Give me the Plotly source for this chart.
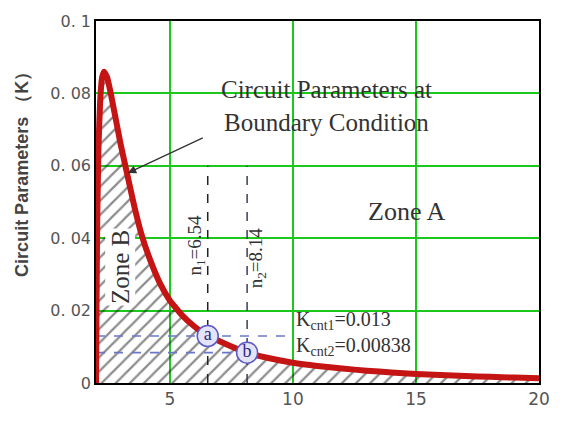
import plotly.graph_objects as go

# Circuit parameter K versus turns ratio n
n_vals = [2.0, 2.02, 2.05, 2.1, 2.17, 2.25, 2.33, 2.45, 2.6, 2.8, 3.0, 3.29, 3.55,
          3.85, 4.2, 4.6, 5.0, 5.5, 6.0, 6.54, 7.0, 7.5, 8.14, 9.0, 10, 11, 12,
          13, 14, 15, 16, 17, 18, 19, 20]
k_vals = [0.0, 0.02, 0.045, 0.065, 0.078, 0.0845, 0.086, 0.0845, 0.080, 0.073,
          0.066, 0.057, 0.049, 0.041, 0.034, 0.0275, 0.0228, 0.0187, 0.0156, 0.013,
          0.0116, 0.0101, 0.00838, 0.0069, 0.0056, 0.0047, 0.0040, 0.0034,
          0.0029, 0.0025, 0.0022, 0.0019, 0.0017, 0.0015, 0.0013]

# Critical points
crit_n = [6.54, 8.14]
crit_k = [0.013, 0.00838]
crit_tags = ["a", "b"]

x_ticks = [5, 10, 15, 20]
y_ticks = [0, 0.02, 0.04, 0.06, 0.08, 0.1]
y_tick_text = ["0", "0. 02", "0. 04", "0. 06", "0. 08", "0. 1"]

SERIF = "Liberation Serif, Times New Roman, serif"
SANS = "DejaVu Sans, sans-serif"
GRID = "#1cc81c"

fig = go.Figure()

# hatched region below the boundary curve
fig.add_trace(go.Scatter(
    x=n_vals, y=k_vals, mode="lines", fill="tozeroy",
    line=dict(width=0, color="rgba(0,0,0,0)"),
    fillcolor="rgba(0,0,0,0)",
    fillpattern=dict(shape="/", size=10, solidity=0.22,
                     fgcolor="#1a1a1a", bgcolor="rgba(0,0,0,0)"),
    hoverinfo="skip", showlegend=False))

# horizontal guides at the critical K values
fig.add_trace(go.Scatter(x=[2, 9.8], y=[crit_k[0]] * 2, mode="lines",
                         line=dict(color="#6a78c8", width=1.6, dash="dash"),
                         showlegend=False))
fig.add_trace(go.Scatter(x=[2, crit_n[1]], y=[crit_k[1]] * 2, mode="lines",
                         line=dict(color="#6a78c8", width=1.6, dash="dash"),
                         showlegend=False))

# vertical guides at the critical turns ratios
for nv, col in zip(crit_n, ["#222222", "#3a3f5a"]):
    fig.add_trace(go.Scatter(x=[nv, nv], y=[0, 0.06], mode="lines",
                             line=dict(color=col, width=1.5, dash="dash"),
                             showlegend=False))

# boundary curve
fig.add_trace(go.Scatter(x=n_vals, y=k_vals, mode="lines",
                         line=dict(color="#c41414", width=6, shape="spline",
                                   smoothing=0.35),
                         showlegend=False))

# labelled critical points
fig.add_trace(go.Scatter(
    x=crit_n, y=crit_k, mode="markers+text", text=crit_tags,
    textposition="middle center",
    textfont=dict(family=SERIF, size=18, color="#2a2a80"),
    marker=dict(size=21, color="#e4e4f8", line=dict(color="#5a5ac8", width=1.5)),
    showlegend=False))

ann = []
ann.append(dict(x=11.36, y=0.0811, text="Circuit Parameters at", showarrow=False,
                font=dict(family=SERIF, size=25, color="#333333")))
ann.append(dict(x=11.36, y=0.0720, text="Boundary Condition", showarrow=False,
                font=dict(family=SERIF, size=25, color="#333333")))
ann.append(dict(x=3.29, y=0.058, ax=6.4, ay=0.0679, axref="x", ayref="y",
                text="", showarrow=True, arrowhead=2, arrowsize=1.3,
                arrowwidth=1.3, arrowcolor="#333333"))
ann.append(dict(x=14.6, y=0.0474, text="Zone A", showarrow=False,
                font=dict(family=SERIF, size=26, color="#333333")))
ann.append(dict(x=2.97, y=0.032, text="Zone B", showarrow=False, textangle=-90,
                bgcolor="white",
                font=dict(family=SERIF, size=25, color="#333333")))
ann.append(dict(x=6.07, y=0.038, text="n<sub>1</sub>=6.54", showarrow=False,
                textangle=-90, font=dict(family=SERIF, size=19, color="#333333")))
ann.append(dict(x=8.55, y=0.0345, text="n<sub>2</sub>=8.14", showarrow=False,
                textangle=-90, font=dict(family=SERIF, size=19, color="#333333")))
ann.append(dict(x=10.05, y=0.0172, xanchor="left",
                text="K<sub>cnt1</sub>=0.013", showarrow=False,
                font=dict(family=SERIF, size=20, color="#333333")))
ann.append(dict(x=10.05, y=0.0102, xanchor="left",
                text="K<sub>cnt2</sub>=0.00838", showarrow=False,
                font=dict(family=SERIF, size=20, color="#333333")))
ann.append(dict(x=-0.166, y=0.59, xref="paper", yref="paper",
                xanchor="center", yanchor="middle",
                text="<b>Circuit Parameters （K）</b>", showarrow=False,
                textangle=-90,
                font=dict(family="Liberation Sans, Arial, sans-serif", size=18,
                          color="#444444")))

fig.update_layout(
    width=562, height=421,
    margin=dict(l=96, r=20, t=20, b=30),
    paper_bgcolor="white", plot_bgcolor="white",
    annotations=ann,
    xaxis=dict(range=[2, 20], tickvals=x_ticks, ticks="",
               showgrid=True, gridcolor=GRID, gridwidth=1.6,
               zeroline=False, showline=True, linecolor="black", linewidth=1.5,
               mirror=True, tickfont=dict(family=SANS, size=17, color="#555555")),
    yaxis=dict(range=[0, 0.1], tickvals=y_ticks, ticktext=y_tick_text, ticks="",
               showgrid=True, gridcolor=GRID, gridwidth=1.6,
               zeroline=False, showline=True, linecolor="black", linewidth=1.5,
               mirror=True, tickfont=dict(family=SANS, size=16, color="#555555")),
)

fig.write_html("out.html")
